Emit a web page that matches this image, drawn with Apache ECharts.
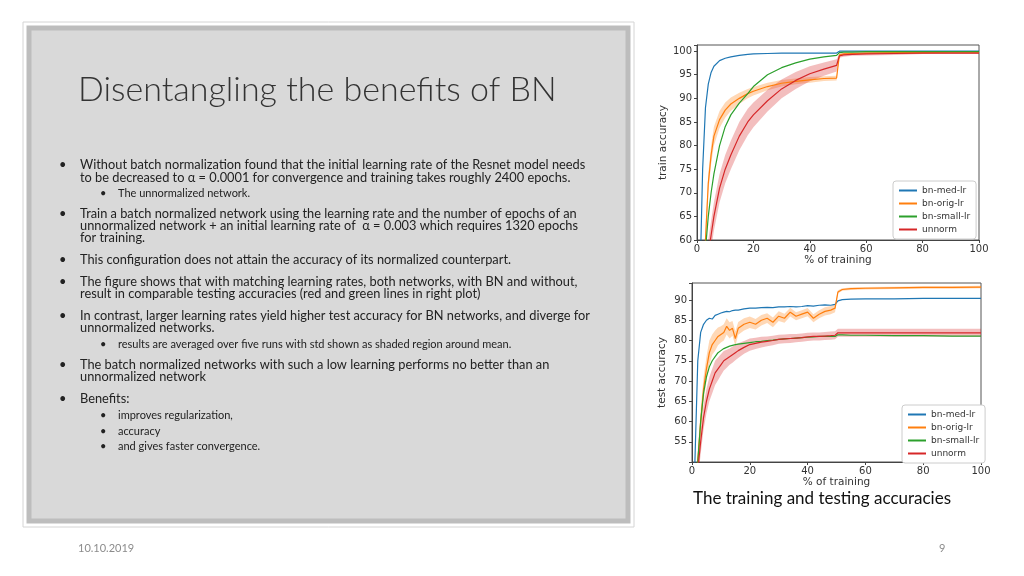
<!DOCTYPE html>
<html><head><meta charset="utf-8">
<script src="https://cdn.jsdelivr.net/npm/echarts@6/dist/echarts.min.js"></script>
<style>html,body{margin:0;padding:0;background:#fff}#c{width:1024px;height:576px}</style>
</head><body><div id="c"></div>
<script>
// ---- train accuracy data ----
const trX = [0,1,2,3,4,5,6,8,10,12,15,18,20,25,30,35,40,45,49.5,50.5,52,55,60,70,80,90,100];
const trBlue   = [40,50,75,88,93,95.5,96.8,98,98.5,98.8,99.1,99.3,99.4,99.5,99.6,99.6,99.6,99.6,99.6,100,100,100,100,100,100,100,100];
const trOrange = [30,40,50,60,72,78,82,85.5,87.5,88.8,90,91,91.5,92.5,93.2,93.6,93.9,94.2,94.3,99.2,99.4,99.5,99.6,99.7,99.7,99.8,99.8];
const trOrangeStd = [2,2,2,2,2,2,2,1.8,1.6,1.4,1.2,1,0.9,0.8,0.7,0.6,0.6,0.5,0.5,0.3,0.2,0.2,0.2,0.2,0.2,0.2,0.2];
const trGreen  = [30,40,50,58,65,70,74,80,84,86.5,89,91,92.5,95,96.5,97.5,98.3,98.8,99.1,99.7,99.8,99.8,99.9,99.9,99.9,99.9,99.9];
const trRed    = [30,38,45,52,57,61,65,71,75,78,82,85,86.5,89.5,92,93.8,95.2,96.2,97,99,99.2,99.3,99.4,99.5,99.6,99.6,99.6];
const trRedStd = [3,3,3,3,3,3,3,3,3,3,3,2.8,2.6,2.3,2,1.8,1.6,1.4,1.3,0.4,0.4,0.3,0.3,0.3,0.2,0.2,0.2];
// ---- test accuracy data ----
const teX = [0,1,2,3,4,5,6,7,8,9,10,11,12,13,14,15,16,18,20,22,24,26,28,30,32,34,36,38,40,42,44,46,48,49.5,50.5,52,55,60,70,80,90,100];
const teBlue   = [40,50,75,82,84,85,85.5,85.3,86.2,86.5,86.8,87,87.2,87.1,87.4,87.5,87.5,87.8,88,88,88.1,88.2,88.1,88.3,88.3,88.4,88.3,88.4,88.6,88.5,88.7,88.8,88.7,88.9,89.8,90.1,90.2,90.3,90.3,90.4,90.4,90.4];
const teOrange = [30,40,50,60,68,73,77,79,80,81,81.5,82,83.5,82.5,83,80.5,83,84,84.5,84,85,85.5,84.5,86,85.5,87,86,86.5,87,85.5,86.5,87.2,87.5,88,92,92.6,92.8,92.9,93,93.1,93.1,93.2];
const teOrangeStd = [3,3,3,3,3,3,3,2.5,2.5,2.2,2,2,2,2,1.8,1.8,1.6,1.5,1.4,1.3,1.3,1.2,1.2,1.2,1.1,1.1,1,1,1,1,1,1,1,1,0.4,0.3,0.3,0.3,0.3,0.3,0.3,0.3];
const teGreen  = [30,40,50,60,67,71,73.5,75,76,77,77.5,78,78.3,78.6,78.8,79,79.1,79.3,79.5,79.7,79.8,80,80.1,80.3,80.4,80.5,80.6,80.7,80.8,80.9,81,81,81,81,81.4,81.4,81.3,81.3,81.2,81.2,81.1,81.1];
const teRed    = [30,40,48,55,61,65,68,70,72,73,74,75,75.5,76,76.5,77,77.5,78.3,79,79.3,79.6,79.8,80,80.3,80.4,80.5,80.6,80.7,80.9,81,81,81.1,81.2,81.3,81.9,81.9,81.9,81.9,81.9,81.9,81.9,81.9];
const teRedStd = [3,3,3,3,3,3,3,3,3,2.8,2.6,2.4,2.2,2,2,1.9,1.8,1.6,1.5,1.4,1.3,1.2,1.2,1.1,1.1,1.1,1,1,1,1,1,1,1,1,1,1,1,1,1,1,1,1];
const names = ['bn-med-lr','bn-orig-lr','bn-small-lr','unnorm'];
const cols = ['#1f77b4','#ff7f0e','#2ca02c','#d62728'];

const pairs = (xs, ys) => xs.map((x,i)=>[x, ys[i]]);
function band(xs, ys, sd, color, g){
  const data = xs.map((x,i)=>[x, ys[i]-sd[i], ys[i]+sd[i]]);
  return {type:'custom', xAxisIndex:g, yAxisIndex:g, silent:true, clip:true, z:1,
    encode:{x:0, y:[1,2]}, data:data,
    renderItem:function(params, api){
      if(params.dataIndex!==0) return null;
      const up = data.map(d=>api.coord([d[0], d[2]]));
      const lo = data.map(d=>api.coord([d[0], d[1]])).reverse();
      return {type:'polygon', shape:{points:up.concat(lo)}, style:{fill:color, opacity:0.3}};
    }};
}
function line(xs, ys, k, g){
  return {type:'line', name:names[k], xAxisIndex:g, yAxisIndex:g, symbol:'none', lineStyle:{width:1.2, color:cols[k]}, itemStyle:{color:cols[k]}, data:pairs(xs,ys), z:3};
}
const axFont = {fontFamily:'DejaVu Sans', fontSize:10, color:'#333'};
function xAx(g, gap){ return {type:'value', gridIndex:g, min:0, max:100, interval:20, name:'% of training', nameLocation:'middle', nameGap:gap,
  nameTextStyle:{fontFamily:'DejaVu Sans', fontSize:10.5, color:'#333'}, axisLine:{show:true,lineStyle:{color:'#444'}}, axisTick:{show:true,length:3,lineStyle:{color:'#444'}},
  splitLine:{show:false}, axisLabel:Object.assign({margin:4},axFont)}; }
function yAx(g, min, max, name){ return {type:'value', gridIndex:g, min:min, max:max, interval:5, name:name, nameLocation:'middle', nameGap:24,
  nameTextStyle:{fontFamily:'DejaVu Sans', fontSize:10.5, color:'#333'}, axisLine:{show:true,lineStyle:{color:'#444'}}, axisTick:{show:true,length:3,lineStyle:{color:'#444'}},
  splitLine:{show:false}, axisLabel:Object.assign({margin:5, formatter:v=> (v%5===0 && v>=55) ? String(v) : ''},axFont)}; }

const chart = echarts.init(document.getElementById('c'));
const T = (x,y,text,size,extra)=>({type:'text', left:x, top:y-size*0.65, style:Object.assign({text:text, fontSize:size, fontFamily:'Lato', fill:'#222'}, extra||{}), z:10});
const bullets = [
  [0,167,'Without batch normalization found that the initial learning rate of the Resnet model needs',true],
  [0,180,'to be decreased to α = 0.0001 for convergence and training takes roughly 2400 epochs.',false],
  [1,195,'The unnormalized network.',true],
  [0,216,'Train a batch normalized network using the learning rate and the number of epochs of an',true],
  [0,228,'unnormalized network + an initial learning rate of  α = 0.003 which requires 1320 epochs',false],
  [0,240,'for training.',false],
  [0,262,'This configuration does not attain the accuracy of its normalized counterpart.',true],
  [0,284,'The figure shows that with matching learning rates, both networks, with BN and without,',true],
  [0,296,'result in comparable testing accuracies (red and green lines in right plot)',false],
  [0,318,'In contrast, larger learning rates yield higher test accuracy for BN networks, and diverge for',true],
  [0,330,'unnormalized networks.',false],
  [1,346,'results are averaged over five runs with std shown as shaded region around mean.',true],
  [0,367,'The batch normalized networks with such a low learning performs no better than an',true],
  [0,379,'unnormalized network',false],
  [0,401,'Benefits:',true],
  [1,417,'improves regularization,',true],
  [1,433,'accuracy',true],
  [1,448,'and gives faster convergence.',true]
];
const gfx = [
  {type:'rect', shape:{x:23,y:22,width:611,height:505}, style:{fill:'#fff', stroke:'#d4d4d4', lineWidth:1}, z:0},
  {type:'rect', shape:{x:29,y:28,width:599,height:493}, style:{fill:'#d9d9d9', stroke:'#bdbdbd', lineWidth:5}, z:1},
  T(78,95,'Disentangling the benefits of BN',34,{fontWeight:300, fill:'#333'}),
  T(693,501,'The training and testing accuracies',17,{fontFamily:'Lato', fill:'#111'}),
  T(78,550,'10.10.2019',11,{fill:'#8c8c8c'}),
  T(939,550,'9',11,{fill:'#8c8c8c'})
];
bullets.forEach(b=>{
  const sub=b[0]===1, fs=sub?11:12.8;
  if(b[3]) gfx.push(T(sub?100:59, b[1], '•', fs));
  gfx.push(T(sub?118:80, b[1], b[2], fs));
});
const legendCommon = {orient:'vertical', data:names, itemWidth:18, itemHeight:2, itemGap:4, icon:'rect',
  textStyle:{fontFamily:'DejaVu Sans', fontSize:9, color:'#333'}, backgroundColor:'#fff', borderColor:'#ccc', borderWidth:1, borderRadius:3, padding:[5,6,5,6]};
chart.setOption({
  animation:false,
  graphic:gfx,
  grid:[
    {left:697, right:45, top:45, bottom:336, show:true, borderColor:'#555', backgroundColor:'#fff'},
    {left:692, right:43, top:283, bottom:114, show:true, borderColor:'#555', backgroundColor:'#fff'}
  ],
  legend:[
    Object.assign({left:893, top:181}, legendCommon),
    Object.assign({left:902, top:405}, legendCommon)
  ],
  xAxis:[xAx(0,14), xAx(1,14)],
  yAxis:[yAx(0,60,101.3,'train accuracy'), yAx(1,50,94.2,'test accuracy')],
  series:[
    band(trX,trOrange,trOrangeStd,cols[1],0),
    band(trX,trRed,trRedStd,cols[3],0),
    line(trX,trBlue,0,0), line(trX,trOrange,1,0), line(trX,trGreen,2,0), line(trX,trRed,3,0),
    band(teX,teOrange,teOrangeStd,cols[1],1),
    band(teX,teRed,teRedStd,cols[3],1),
    line(teX,teBlue,0,1), line(teX,teOrange,1,1), line(teX,teGreen,2,1), line(teX,teRed,3,1)
  ]
});
</script></body></html>
